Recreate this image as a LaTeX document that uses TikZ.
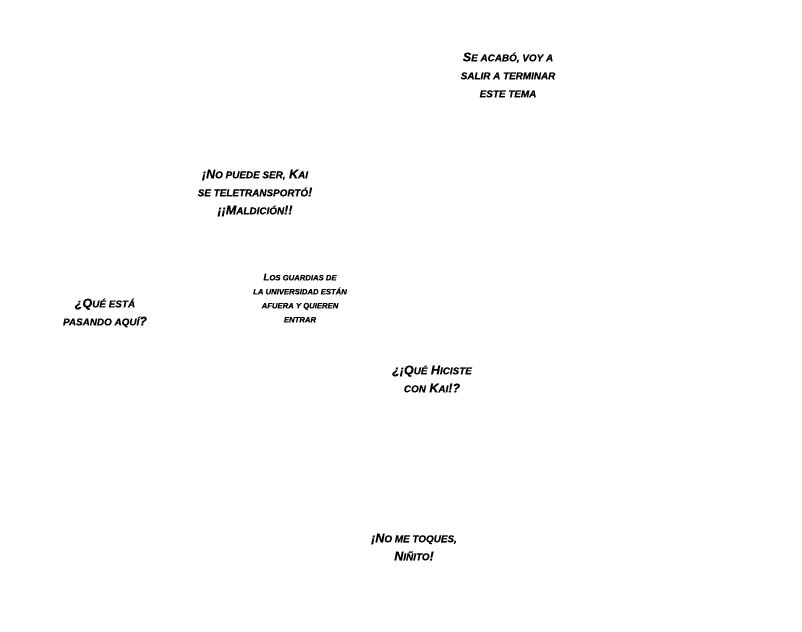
\documentclass[tikz,border=0pt]{standalone}
\usepackage{fontspec}
\setmainfont{Liberation Sans}[BoldItalicFeatures={FakeBold=0.5}]
\usepackage{tikz}

\begin{document}
\begin{tikzpicture}[x=1pt,y=1pt]
        %%init
        %tamaño de las minúsculas (versalitas)
        \newcommand{\lcsize}{9.9}
        \newcommand{\lc}[1]{{\fontsize{\lcsize}{18}\selectfont\MakeUppercase{#1}}}
        %estilos de los textos
        \tikzset{globo/.style = {align=center, inner sep=0, font=\fontsize{12.5}{18}\selectfont\bfseries\itshape}}
        \tikzset{globochico/.style = {globo, font=\fontsize{9.8}{14}\selectfont\bfseries\itshape\renewcommand{\lcsize}{7.7}}}

        %%página
        \fill[white] (0,0) rectangle (802,631);
        \useasboundingbox (0,0) rectangle (802,631);

        %%textos
        \node[globo] (acabo) at (508,556) {S\lc{e acabó, voy a}\\ \lc{salir a terminar}\\ \lc{este tema}};
        \node[globo] (nopuede) at (255,438) {¡N\lc{o puede ser,} K\lc{ai}\\ \lc{se teletransportó}!\\ ¡¡M\lc{aldición}!!};
        \node[globochico] (guardias) at (300,333) {L\lc{os guardias de}\\ \lc{la universidad están}\\ \lc{afuera y quieren}\\ \lc{entrar}};
        \node[globo] (quepasa) at (105,318) {¿Q\lc{ué está}\\ \lc{pasando aquí}?};
        \node[globo] (quehiciste) at (432,252) {¿¡Q\lc{ué} H\lc{iciste}\\ \lc{con} K\lc{ai}!?};
        \node[globo] (notoques) at (414,84) {¡N\lc{o me toques,}\\ N\lc{iñito}!};

\end{tikzpicture}
\end{document}
